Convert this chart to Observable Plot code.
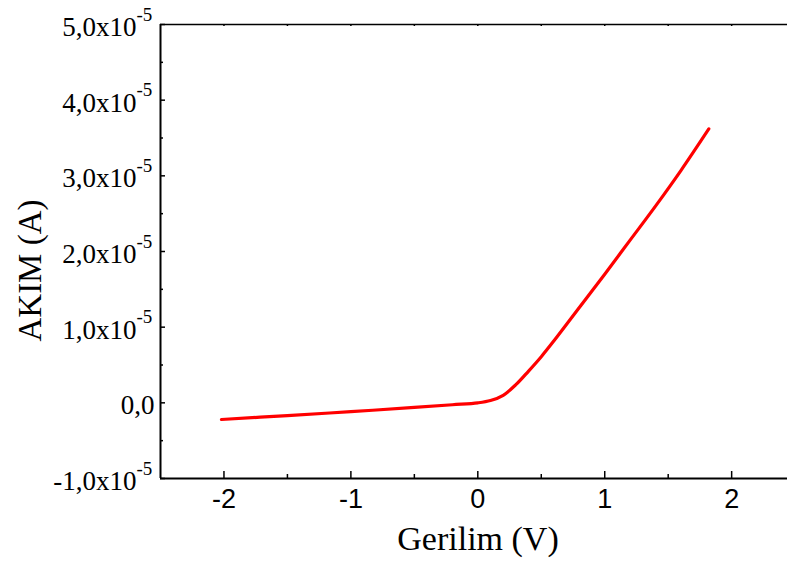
<!DOCTYPE html>
<html><head><meta charset="utf-8">
<script src="https://cdn.jsdelivr.net/npm/d3@7"></script>
<script src="https://cdn.jsdelivr.net/npm/@observablehq/plot@0.6"></script>
<style>html,body{margin:0;padding:0;background:#fff}#chart svg{display:block}</style>
</head><body><div id="chart"></div>
<script>
// Data (current in A)
const voltage = [-2.02, -1.5, -1.0, -0.5, -0.2, 0, 0.1, 0.2, 0.3, 0.4, 0.5, 0.6, 0.8, 1.0, 1.2, 1.4, 1.6, 1.82];
const current = [-0.22e-5, -0.168e-5, -0.117e-5, -0.06e-5, -0.025e-5, 0, 0.03e-5, 0.1e-5, 0.24e-5, 0.42e-5, 0.61e-5, 0.82e-5, 1.26e-5, 1.7e-5, 2.15e-5, 2.6e-5, 3.07e-5, 3.62e-5];

const xTickValues = [-2, -1, 0, 1, 2];
const xTickLabels = ["-2", "-1", "0", "1", "2"];
const xMinorTicks = [-1.5, -0.5, 0.5, 1.5];
const yTickValues = [5e-5, 4e-5, 3e-5, 2e-5, 1e-5, 0, -1e-5];
const yTickMantissa = ["5,0x10", "4,0x10", "3,0x10", "2,0x10", "1,0x10", "0,0", "-1,0x10"];
const yTickExponent = ["-5", "-5", "-5", "-5", "-5", "", "-5"];
const yMinorTicks = [-0.5e-5, 0.5e-5, 1.5e-5, 2.5e-5, 3.5e-5, 4.5e-5];
const xLabel = "Gerilim (V)";
const yLabel = "AKIM (A)";
const xDomain = [-2.5, 2.44];
const yDomain = [-1e-5, 5e-5];

const W = 787, H = 569, mL = 160, mR = 0, mT = 24, mB = 91;
const kx = (W - mL - mR) / (xDomain[1] - xDomain[0]);
const ky = (H - mT - mB) / (yDomain[1] - yDomain[0]);
const serif = "'Liberation Serif', 'Times New Roman', Times, serif";
const sans = "'Liberation Sans', Arial, Helvetica, sans-serif";

const data = voltage.map((v, i) => ({v, i: current[i]}));
const yLab = yTickValues.map((y, i) => ({y, m: yTickMantissa[i], e: yTickExponent[i]}));
const allTopTicks = [...xTickValues, ...xMinorTicks];

const chart = Plot.plot({
  width: W, height: H,
  marginLeft: mL, marginRight: mR, marginTop: mT, marginBottom: mB,
  x: {domain: xDomain, axis: null},
  y: {domain: yDomain, axis: null},
  style: {background: "#fff", overflow: "visible", fontFamily: serif},
  marks: [
    // frame
    Plot.ruleX([xDomain[0]], {stroke: "#000", strokeWidth: 2}),
    Plot.ruleY([yDomain[0]], {stroke: "#000", strokeWidth: 2}),
    Plot.ruleY([yDomain[1]], {stroke: "#000", strokeWidth: 1.5}),
    // bottom ticks (inward)
    Plot.ruleX(xTickValues, {x: d => d, y1: yDomain[0], y2: yDomain[0] + 7 / ky, stroke: "#000", strokeWidth: 1.5}),
    Plot.ruleX(xMinorTicks, {x: d => d, y1: yDomain[0], y2: yDomain[0] + 4 / ky, stroke: "#000", strokeWidth: 1.5}),
    // top ticks
    Plot.ruleX(allTopTicks, {x: d => d, y1: yDomain[1], y2: yDomain[1] - 2 / ky, stroke: "#000", strokeWidth: 1.5}),
    // left ticks (inward)
    Plot.ruleY(yTickValues, {y: d => d, x1: xDomain[0], x2: xDomain[0] + 5 / kx, stroke: "#000", strokeWidth: 1.5}),
    Plot.ruleY(yMinorTicks, {y: d => d, x1: xDomain[0], x2: xDomain[0] + 3 / kx, stroke: "#000", strokeWidth: 1.5}),
    // curve
    Plot.line(data, {x: "v", y: "i", stroke: "#ff0000", strokeWidth: 3.2, curve: "catmull-rom", strokeLinecap: "round"}),
    // x tick labels
    Plot.text(xTickValues, {x: d => d, text: (d, i) => xTickLabels[i], frameAnchor: "bottom", lineAnchor: "top", dy: 10, fontSize: 27, fontFamily: sans, fill: "#000"}),
    // y tick labels
    Plot.text(yLab.filter(d => d.e), {y: "y", text: "m", frameAnchor: "left", textAnchor: "end", dx: -24, dy: 3, fontSize: 27, fontFamily: serif, fill: "#000"}),
    Plot.text(yLab.filter(d => d.e), {y: "y", text: "e", frameAnchor: "left", textAnchor: "start", dx: -24, dy: -10, fontSize: 19, fontFamily: serif, fill: "#000"}),
    Plot.text(yLab.filter(d => !d.e), {y: "y", text: "m", frameAnchor: "left", textAnchor: "end", dx: -6, dy: 3, fontSize: 27, fontFamily: serif, fill: "#000"}),
    // axis titles
    Plot.text([xLabel], {text: d => d, frameAnchor: "bottom", textAnchor: "middle", dx: 4, dy: 71, fontSize: 34, fontFamily: serif, fill: "#000"}),
    Plot.text([yLabel], {text: d => d, frameAnchor: "left", textAnchor: "middle", rotate: -90, dx: -130, dy: 19, fontSize: 33, fontFamily: serif, fill: "#000"})
  ]
});
document.getElementById("chart").appendChild(chart);
</script>
</body></html>
